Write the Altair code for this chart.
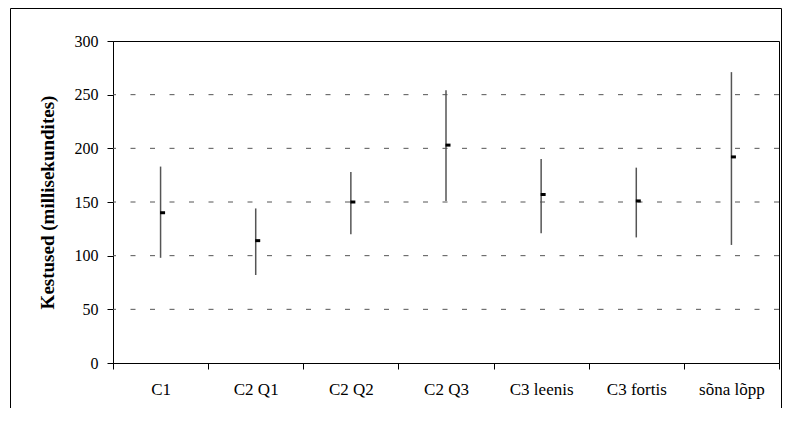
import altair as alt
import pandas as pd

cats = ["C1", "C2 Q1", "C2 Q2", "C2 Q3", "C3 leenis", "C3 fortis", "sõna lõpp"]
means = [140, 114, 150, 203, 157, 151, 192]
lows = [98, 82, 120, 151, 121, 117, 110]
highs = [183, 144, 178, 254, 190, 182, 271]
grid_vals = [50, 100, 150, 200, 250]
y_ticks = [0, 50, 100, 150, 200, 250, 300]

df = pd.DataFrame({"cat": cats, "mean": means, "low": lows, "high": highs})
gdf = pd.DataFrame({"g": grid_vals})

FONT = "'Liberation Serif', 'Times New Roman', Times, serif"

xenc = alt.X(
    "cat:N", sort=cats, title=None,
    scale=alt.Scale(paddingInner=0, paddingOuter=0),
    axis=alt.Axis(labelAngle=0, labelFontSize=17, labelColor="black", labelFont=FONT,
                  domainColor="black", tickColor="black", tickSize=6, tickBand="extent",
                  labelPadding=12, grid=False),
)
yscale = alt.Scale(domain=[0, 300], nice=False)

yaxis = alt.Axis(values=y_ticks, grid=False, labelFontSize=16, labelFont=FONT,
                 labelColor="black", domainColor="black", tickColor="black",
                 tickSize=6, labelPadding=9,
                 title="Kestused (millisekundites)", titleFontSize=19, titleFont=FONT,
                 titleFontWeight="bold", titleColor="black", titleAngle=-90,
                 titleX=-66, titleY=161, titleAlign="center", titleBaseline="middle")

grid = alt.Chart(gdf).mark_rule(color="#555", strokeWidth=1, strokeDash=[5, 14.5]).encode(
    y=alt.Y("g:Q", scale=yscale, axis=yaxis)
)

rules = alt.Chart(df).mark_rule(color="#555", strokeWidth=1.5).encode(
    x=xenc,
    y=alt.Y("low:Q", scale=yscale),
    y2="high:Q",
)

marks = alt.Chart(df).mark_tick(color="black", size=5, thickness=3, xOffset=2, opacity=1).encode(
    x=alt.X("cat:N", sort=cats),
    y=alt.Y("mean:Q", scale=yscale),
)

frame = alt.Chart(pd.DataFrame({"a": [0]})).mark_rect(
    filled=False, stroke="black", strokeWidth=1
).encode(
    x=alt.value(-102.5), x2=alt.value(668.5), y=alt.value(-32.5), y2=alt.value(420)
)

chart = alt.layer(frame, grid, rules, marks).properties(
    width=666, height=322,
    autosize=alt.AutoSizeParams(type="none"),
    padding={"left": 105, "top": 33, "right": 3, "bottom": 45},
    background="white",
).configure_view(stroke="black", strokeWidth=1)

chart.save("out.html", embed_options={"renderer": "svg", "actions": False})
